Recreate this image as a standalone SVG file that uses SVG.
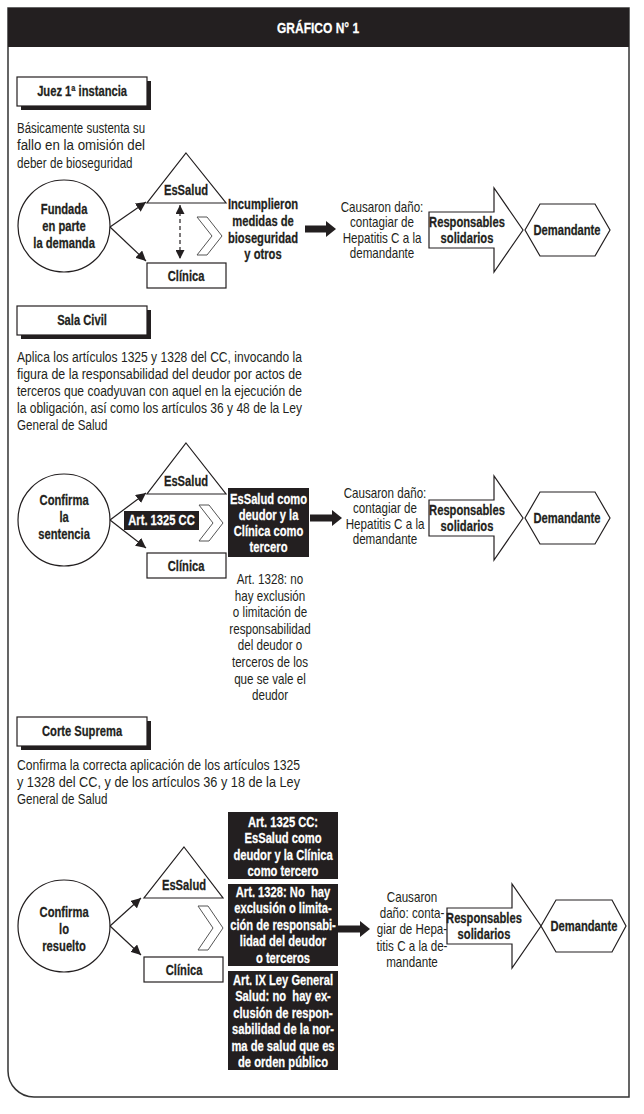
<svg xmlns="http://www.w3.org/2000/svg" width="644" height="1114" viewBox="0 0 644 1114">
<defs>
<style>
text{font-family:"Liberation Sans",Arial,sans-serif;fill:#231f20}
.b{font-weight:bold;font-size:14px;text-anchor:middle;stroke:#231f20;stroke-width:.25;transform-box:fill-box;transform-origin:center;transform:scaleX(.8)}
.r{font-size:14px}
.rc{text-anchor:middle;transform-box:fill-box;transform-origin:center;transform:scaleX(.83)}
.rl{transform-box:fill-box;transform-origin:left center;transform:scaleX(.83)}
.b.w{fill:#fff;stroke:#fff}
.sh{fill:#231f20}
.box{fill:#fff;stroke:#231f20;stroke-width:1.2}
.blk{fill:#231f20}
.thin{stroke:#231f20;stroke-width:1.2;fill:none}
.chev{fill:#fff;stroke:#555;stroke-width:1}
.thick{fill:#231f20}
</style>
<marker id="ah" viewBox="0 0 10 10" refX="10" refY="5" markerWidth="10" markerHeight="10" markerUnits="userSpaceOnUse" orient="auto-start-reverse">
<path d="M0,0 L10,5 L0,10 z" fill="#231f20" stroke="none"/>
</marker>
<marker id="ahs" viewBox="0 0 10 10" refX="10" refY="5" markerWidth="9" markerHeight="9" markerUnits="userSpaceOnUse" orient="auto-start-reverse">
<path d="M0,0 L10,5 L0,10 z" fill="#231f20" stroke="none"/>
</marker>
</defs>

<g id="frame">
<path d="M8,8 H629 V1097 H34 A26,26 0 0 1 8,1071 Z" fill="#fff" stroke="#333" stroke-width="1.5"/>
<rect x="8" y="8" width="621" height="39" fill="#231f20"/>
<text class="b w" x="318" y="33" style="font-size:15px">GRÁFICO N° 1</text>
</g>

<!-- Section 1 -->
<g id="juez">
<rect class="sh" x="21" y="81" width="130" height="29"/>
<rect class="box" x="17" y="77" width="130" height="29"/>
<text class="b" x="82" y="96.5">Juez 1ª instancia</text>
</g>
<g id="texto1">
<text class="r" x="17" y="133" textLength="128" lengthAdjust="spacingAndGlyphs">Básicamente sustenta su</text>
<text class="r" x="17" y="150" textLength="128" lengthAdjust="spacingAndGlyphs">fallo en la omisión del</text>
<text class="r rl" x="17" y="168">deber de bioseguridad</text>
</g>
<g id="fundada">
<circle cx="64" cy="226" r="46" fill="#fff" stroke="#231f20" stroke-width="1.2"/>
<text class="b" x="64" y="214">Fundada</text>
<text class="b" x="64" y="231">en parte</text>
<text class="b" x="64" y="248">la demanda</text>
</g>
<g id="essalud1">
<polygon class="box" points="186,153 226,203 147,203"/>
<text class="b" x="186" y="195">EsSalud</text>
</g>
<g id="clinica1">
<rect class="box" x="147" y="263" width="79" height="25"/>
<text class="b" x="186" y="281">Clínica</text>
</g>
<g id="incumplieron">
<text class="b" x="263" y="209">Incumplieron</text>
<text class="b" x="263" y="226">medidas de</text>
<text class="b" x="263" y="243">bioseguridad</text>
<text class="b" x="263" y="259">y otros</text>
</g>
<g id="causaron1">
<text class="r rc" x="382" y="212">Causaron daño:</text>
<text class="r rc" x="382" y="227.5">contagiar de</text>
<text class="r rc" x="382" y="243">Hepatitis C a la</text>
<text class="r rc" x="382" y="258.5">demandante</text>
</g>
<g id="responsables1">
<polygon class="box" points="429,212 494,212 494,188 523,230 494,272 494,248 429,248"/>
<text class="b" x="467" y="227">Responsables</text>
<text class="b" x="467" y="243">solidarios</text>
</g>
<g id="demandante1">
<polygon class="box" points="525,230 540,204 595,204 610,230 595,256 540,256"/>
<text class="b" x="567" y="235">Demandante</text>
</g>

<!-- Section 2 -->
<g id="salacivil">
<rect class="sh" x="21" y="310" width="130" height="29"/>
<rect class="box" x="17" y="306" width="130" height="29"/>
<text class="b" x="82" y="325.5">Sala Civil</text>
</g>
<g id="texto2">
<text class="r" x="17" y="362" textLength="285" lengthAdjust="spacingAndGlyphs">Aplica los artículos 1325 y 1328 del CC, invocando la</text>
<text class="r" x="17" y="379" textLength="285" lengthAdjust="spacingAndGlyphs">figura de la responsabilidad del deudor por actos de</text>
<text class="r" x="17" y="396" textLength="285" lengthAdjust="spacingAndGlyphs">terceros que coadyuvan con aquel en la ejecución de</text>
<text class="r" x="17" y="413" textLength="285" lengthAdjust="spacingAndGlyphs">la obligación, así como los artículos 36 y 48 de la Ley</text>
<text class="r rl" x="17" y="430">General de Salud</text>
</g>
<g id="confirma">
<circle cx="64" cy="520" r="46" fill="#fff" stroke="#231f20" stroke-width="1.2"/>
<text class="b" x="64" y="505">Confirma</text>
<text class="b" x="64" y="522">la</text>
<text class="b" x="64" y="539">sentencia</text>
</g>
<g id="essalud2">
<polygon class="box" points="186,443 226,494 147,494"/>
<text class="b" x="186" y="486">EsSalud</text>
</g>
<g id="clinica2">
<rect class="box" x="147" y="553" width="79" height="25"/>
<text class="b" x="186" y="571">Clínica</text>
</g>
<g id="art1325">
<rect class="blk" x="124" y="511" width="75" height="19"/>
<text class="b w" x="161.5" y="525.5">Art. 1325 CC</text>
</g>
<g id="deudor2">
<rect class="blk" x="228" y="488" width="81" height="69"/>
<text class="b w" x="268.5" y="504">EsSalud como</text>
<text class="b w" x="268.5" y="520">deudor y la</text>
<text class="b w" x="268.5" y="536">Clínica como</text>
<text class="b w" x="268.5" y="552">tercero</text>
</g>
<g id="art1328">
<text class="r rc" x="270" y="584">Art. 1328: no</text>
<text class="r rc" x="270" y="601">hay exclusión</text>
<text class="r rc" x="270" y="617">o limitación de</text>
<text class="r rc" x="270" y="634">responsabilidad</text>
<text class="r rc" x="270" y="650">del deudor o</text>
<text class="r rc" x="270" y="667">terceros de los</text>
<text class="r rc" x="270" y="684">que se vale el</text>
<text class="r rc" x="270" y="700">deudor</text>
</g>
<g id="causaron2">
<text class="r rc" x="385" y="498">Causaron daño:</text>
<text class="r rc" x="385" y="513.5">contagiar de</text>
<text class="r rc" x="385" y="529">Hepatitis C a la</text>
<text class="r rc" x="385" y="544.5">demandante</text>
</g>
<g id="responsables2">
<polygon class="box" points="429,500 494,500 494,476 523,518 494,560 494,536 429,536"/>
<text class="b" x="467" y="515">Responsables</text>
<text class="b" x="467" y="531">solidarios</text>
</g>
<g id="demandante2">
<polygon class="box" points="525,518 540,492 595,492 610,518 595,544 540,544"/>
<text class="b" x="567" y="523">Demandante</text>
</g>

<!-- Section 3 -->
<g id="cortesuprema">
<rect class="sh" x="21" y="721" width="130" height="29"/>
<rect class="box" x="17" y="717" width="130" height="29"/>
<text class="b" x="82" y="736.5">Corte Suprema</text>
</g>
<g id="texto3">
<text class="r" x="17" y="770" textLength="283" lengthAdjust="spacingAndGlyphs">Confirma la correcta aplicación de los artículos 1325</text>
<text class="r" x="17" y="787" textLength="283" lengthAdjust="spacingAndGlyphs">y 1328 del CC, y de los artículos 36 y 18 de la Ley</text>
<text class="r rl" x="17" y="804">General de Salud</text>
</g>
<g id="resuelto">
<circle cx="64" cy="926" r="46" fill="#fff" stroke="#231f20" stroke-width="1.2"/>
<text class="b" x="64" y="917">Confirma</text>
<text class="b" x="64" y="934">lo</text>
<text class="b" x="64" y="951">resuelto</text>
</g>
<g id="essalud3">
<polygon class="box" points="184,847 223,898 144,898"/>
<text class="b" x="184" y="890">EsSalud</text>
</g>
<g id="clinica3">
<rect class="box" x="144" y="957" width="79" height="25"/>
<text class="b" x="184" y="975">Clínica</text>
</g>
<g id="box1325">
<rect class="blk" x="228" y="812" width="110" height="67"/>
<text class="b w" x="283" y="827">Art. 1325 CC:</text>
<text class="b w" x="283" y="843">EsSalud como</text>
<text class="b w" x="283" y="860">deudor y la Clínica</text>
<text class="b w" x="283" y="876">como tercero</text>
</g>
<g id="box1328">
<rect class="blk" x="228" y="884" width="110" height="82"/>
<text class="b w" x="283" y="897">Art. 1328: No&#160; hay</text>
<text class="b w" x="283" y="913.5">exclusión o limita-</text>
<text class="b w" x="283" y="930">ción de responsabi-</text>
<text class="b w" x="283" y="946.5">lidad del deudor</text>
<text class="b w" x="283" y="963">o terceros</text>
</g>
<g id="boxIX">
<rect class="blk" x="228" y="971" width="110" height="99"/>
<text class="b w" x="283" y="985">Art. IX Ley General</text>
<text class="b w" x="283" y="1001.5">Salud: no&#160; hay ex-</text>
<text class="b w" x="283" y="1018">clusión de respon-</text>
<text class="b w" x="283" y="1034.5">sabilidad de la nor-</text>
<text class="b w" x="283" y="1051">ma de salud que es</text>
<text class="b w" x="283" y="1067.5">de orden público</text>
</g>
<g id="causaron3">
<text class="r rc" x="412" y="902">Causaron</text>
<text class="r rc" x="412" y="918">daño: conta-</text>
<text class="r rc" x="412" y="934">giar de Hepa-</text>
<text class="r rc" x="412" y="951">titis C a la de-</text>
<text class="r rc" x="412" y="967">mandante</text>
</g>
<g id="responsables3">
<polygon class="box" points="447,908 512,908 512,884 541,926 512,968 512,944 447,944"/>
<text class="b" x="484" y="923">Responsables</text>
<text class="b" x="484" y="939">solidarios</text>
</g>
<g id="demandante3">
<polygon class="box" points="541,926 556,900 612,900 626,926 612,952 556,952"/>
<text class="b" x="584" y="931">Demandante</text>
</g>

<g id="connectors">
<line class="thin" x1="110" y1="227" x2="146" y2="202" marker-end="url(#ah)"/>
<line class="thin" x1="110" y1="227" x2="146" y2="261" marker-end="url(#ah)"/>
<line class="thin" x1="180" y1="205" x2="180" y2="259" stroke-dasharray="4,3" marker-start="url(#ahs)" marker-end="url(#ahs)"/>
<polygon class="chev" points="197,217 207,217 222,236 207,255 197,255 212,236"/>
<polygon class="thick" points="305,225.5 326,225.5 326,221 336,229 326,237 326,232.5 305,232.5"/>

<line class="thin" x1="110" y1="520" x2="146" y2="493" marker-end="url(#ah)"/>
<line class="thin" x1="110" y1="520" x2="146" y2="548" marker-end="url(#ah)"/>
<polygon class="chev" points="199,505 209,505 223,523 209,541 199,541 213,523"/>
<polygon class="thick" points="310,514.5 332,514.5 332,510 342,518 332,526 332,521.5 310,521.5"/>

<line class="thin" x1="110" y1="926" x2="141" y2="898" marker-end="url(#ah)"/>
<line class="thin" x1="110" y1="926" x2="141" y2="955" marker-end="url(#ah)"/>
<polygon class="chev" points="198,906 208,906 223,928 208,950 198,950 213,928"/>
<polygon class="thick" points="338,925.5 360,925.5 360,921 370,929 360,937 360,932.5 338,932.5"/>
</g>
</svg>
